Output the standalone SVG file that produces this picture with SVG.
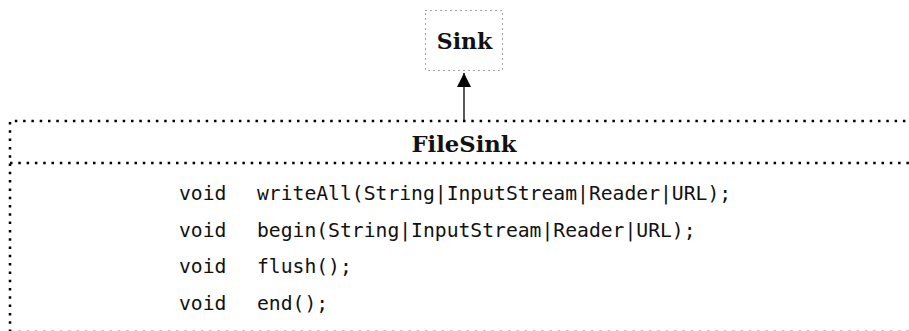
<svg xmlns="http://www.w3.org/2000/svg" width="909" height="331" viewBox="0 0 909 331">
<style>
.title{font-family:"DejaVu Serif","Liberation Serif",serif;font-weight:bold;font-size:22px;fill:#111;text-anchor:middle}
.code{font-family:"DejaVu Sans Mono","Liberation Mono",monospace;font-size:19.7px;fill:#111}
.thin{fill:none;stroke:#444;stroke-width:1;stroke-dasharray:1 4}
.thick{fill:none;stroke:#000;stroke-width:2.5;stroke-dasharray:2.5 5.8}
</style>
<defs>
<marker id="arr" markerWidth="14" markerHeight="14" refX="14" refY="7" orient="auto" markerUnits="userSpaceOnUse">
<path d="M0,0 L14,7 L0,14 Z" fill="#000"/>
</marker>
</defs>
<g id="sink">
<rect class="thin" x="425.5" y="10.5" width="77" height="60"/>
<text class="title" x="464.5" y="48.5">Sink</text>
</g>
<g id="filesink">
<path class="thick" d="M10,332 L10,121 L915,121"/>
<path class="thick" d="M10,331.9 L915,331.9"/>
<path class="thick" d="M10,163 L915,163"/>
<text class="title" x="464" y="152" textLength="105" lengthAdjust="spacingAndGlyphs" font-size="23">FileSink</text>
<text class="code" x="179" y="199.5">void</text>
<text class="code" x="257" y="199.5">writeAll(String|InputStream|Reader|URL);</text>
<text class="code" x="179" y="236.5">void</text>
<text class="code" x="257" y="236.5">begin(String|InputStream|Reader|URL);</text>
<text class="code" x="179" y="273">void</text>
<text class="code" x="257" y="273">flush();</text>
<text class="code" x="179" y="309.5">void</text>
<text class="code" x="257" y="309.5">end();</text>
</g>
<g id="connectors">
<line x1="464" y1="120" x2="464" y2="73" stroke="#000" stroke-width="1.3" marker-end="url(#arr)"/>
</g>
</svg>
